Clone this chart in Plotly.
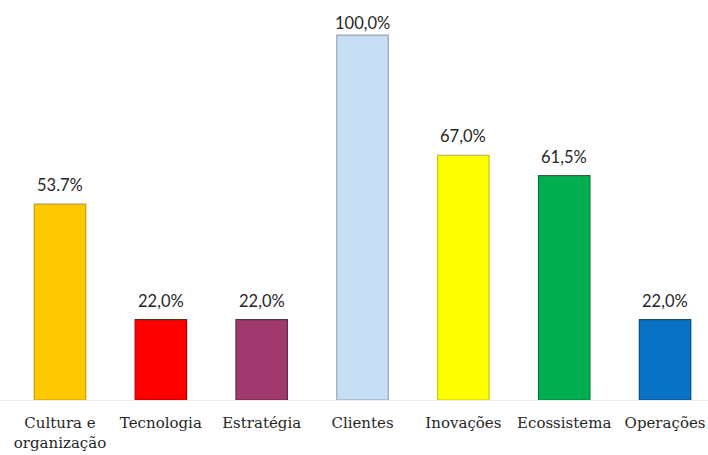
import plotly.graph_objects as go

categories = ["Cultura e<br>organização", "Tecnologia", "Estratégia", "Clientes",
              "Inovações", "Ecossistema", "Operações"]
values = [53.7, 22.0, 22.0, 100.0, 67.0, 61.5, 22.0]
value_labels = ["53.7%", "22,0%", "22,0%", "100,0%", "67,0%", "61,5%", "22,0%"]
colors = ["#FFC800", "#FF0000", "#A03A6E", "#C8DEF5", "#FFFF00", "#00B050", "#0A72C4"]
edge_colors = ["#C89A00", "#B00000", "#6E2248", "#8FA6BE", "#C8C800", "#007A36", "#05508A"]

x = list(range(len(categories)))

fig = go.Figure()
fig.add_trace(go.Bar(
    x=x, y=values, width=0.51,
    marker=dict(color=colors, line=dict(color=edge_colors, width=1.2)),
    hoverinfo="skip",
))

for xi, yi, lab in zip(x, values, value_labels):
    fig.add_annotation(
        x=xi, y=yi, text=lab, showarrow=False, yanchor="bottom",
        yshift=7 if yi < 90 else 0,
        font=dict(family="Lato, Open Sans, sans-serif", size=16.5, color="#262626"),
    )

fig.update_layout(
    width=708, height=455,
    margin=dict(l=0, r=0, t=0, b=55),
    paper_bgcolor="white", plot_bgcolor="white",
    showlegend=False,
    xaxis=dict(
        tickmode="array", tickvals=x, ticktext=categories,
        range=[-0.595, 6.426], showgrid=False, zeroline=False,
        showline=True, linecolor="#ECECEC", linewidth=1,
        tickfont=dict(family="DejaVu Serif, serif", size=15, color="#262626"),
        ticks="", ticklabelstandoff=9,
    ),
    yaxis=dict(range=[0, 109.6], visible=False),
)

fig.write_html("out.html", config={"displayModeBar": False},
               post_script="document.body.style.margin='0';document.body.style.overflow='hidden';")
